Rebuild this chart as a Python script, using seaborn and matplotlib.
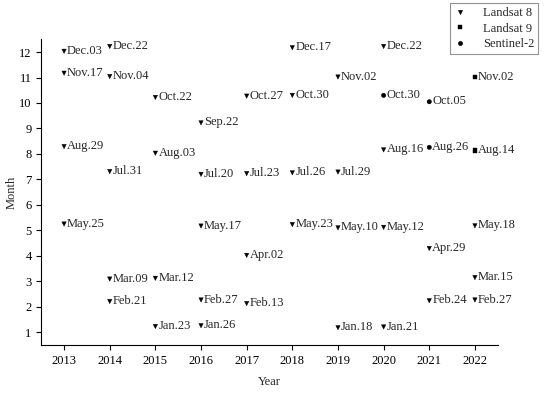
import matplotlib
matplotlib.use("Agg")
import matplotlib.pyplot as plt
import seaborn as sns
import pandas as pd

# acquisition dates (year, month, day, sensor)
years = [2013, 2013, 2013, 2013,
         2014, 2014, 2014, 2014, 2014,
         2015, 2015, 2015, 2015,
         2016, 2016, 2016, 2016, 2016,
         2017, 2017, 2017, 2017,
         2018, 2018, 2018, 2018,
         2019, 2019, 2019, 2019,
         2020, 2020, 2020, 2020, 2020,
         2021, 2021, 2021, 2021,
         2022, 2022, 2022, 2022, 2022]
months = [12, 11, 8, 5,
          12, 11, 7, 3, 2,
          10, 8, 3, 1,
          9, 7, 5, 2, 1,
          10, 7, 4, 2,
          12, 10, 7, 5,
          11, 7, 5, 1,
          12, 10, 8, 5, 1,
          10, 8, 4, 2,
          11, 8, 5, 3, 2]
days = [3, 17, 29, 25,
        22, 4, 31, 9, 21,
        22, 3, 12, 23,
        22, 20, 17, 27, 26,
        27, 23, 2, 13,
        17, 30, 26, 23,
        2, 29, 10, 18,
        22, 30, 16, 12, 21,
        5, 26, 29, 24,
        2, 14, 18, 15, 27]
sensors = ["Landsat 8"] * 30 + \
    ["Landsat 8", "Sentinel-2", "Landsat 8", "Landsat 8", "Landsat 8"] + \
    ["Sentinel-2", "Sentinel-2", "Landsat 8", "Landsat 8"] + \
    ["Landsat 9", "Landsat 9", "Landsat 8", "Landsat 8", "Landsat 8"]
month_names = {1: "Jan", 2: "Feb", 3: "Mar", 4: "Apr", 5: "May", 6: "Jun",
               7: "Jul", 8: "Aug", 9: "Sep", 10: "Oct", 11: "Nov", 12: "Dec"}

df = pd.DataFrame({"Year": years, "Month": months, "Day": days, "Sensor": sensors})
df["y"] = df["Month"] + df["Day"] / 100
df["label"] = [f"{month_names[m]}.{d:02d}" for m, d in zip(df["Month"], df["Day"])]

sns.set_style("ticks")
plt.rcParams["font.family"] = ["Liberation Serif", "DejaVu Serif"]
plt.rcParams["font.size"] = 9

fig, ax = plt.subplots(figsize=(5.5, 3.93), dpi=100)
sns.scatterplot(data=df, x="Year", y="y", style="Sensor",
                style_order=["Landsat 8", "Landsat 9", "Sentinel-2"],
                markers={"Landsat 8": "v", "Landsat 9": "s", "Sentinel-2": "o"},
                color="black", s=10, edgecolor="black", linewidth=0.3, ax=ax)

for _, r in df.iterrows():
    ax.annotate(r["label"], (r["Year"], r["y"]), xytext=(2.2, 0.3),
                textcoords="offset points", va="center", ha="left", fontsize=9)

ax.set_xlim(2012.5, 2022.5)
ax.set_ylim(0.5, 12.5)
ax.set_xticks(range(2013, 2023))
ax.set_yticks(range(1, 13))
ax.set_xlabel("Year", fontsize=9, labelpad=7)
ax.set_ylabel("Month", fontsize=9, labelpad=1)
ax.tick_params(direction="out", length=3.5, width=0.8, labelsize=9, colors="black")
for s in ["left", "bottom"]:
    ax.spines[s].set_color("black")
    ax.spines[s].set_linewidth(0.8)
sns.despine(ax=ax)

leg = ax.legend(loc="upper right", bbox_to_anchor=(0.978, 0.992),
                bbox_transform=fig.transFigure, frameon=True, fancybox=False,
                fontsize=9, handletextpad=1.3, borderpad=0.3, labelspacing=0.3,
                handlelength=1.0, markerscale=1.0, borderaxespad=0)
leg.get_frame().set_edgecolor("#777777")
leg.get_frame().set_linewidth(0.8)

fig.subplots_adjust(left=0.075, right=0.905, top=0.9, bottom=0.122)
fig.savefig("out.png", dpi=100)
